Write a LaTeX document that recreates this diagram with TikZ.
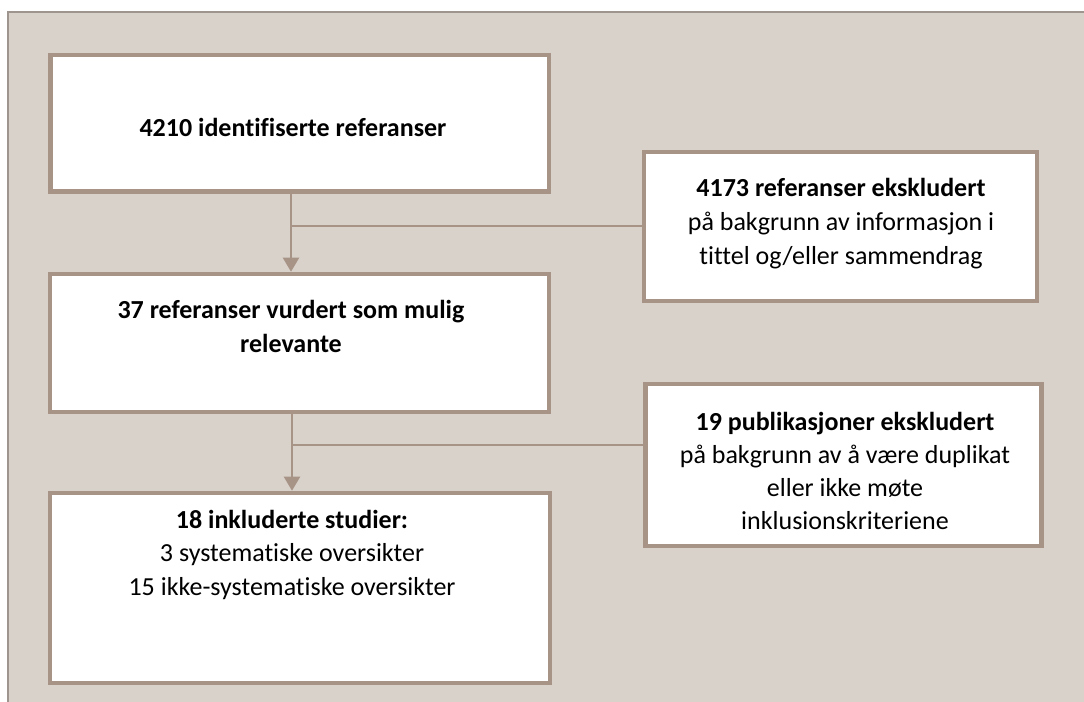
\documentclass[tikz,border=0pt]{standalone}
\usepackage{fontspec}
\setmainfont{Carlito}[Ligatures={NoCommon}]
\usetikzlibrary{arrows.meta}
\definecolor{bg}{RGB}{217,210,203}
\definecolor{bc}{RGB}{168,148,134}
\definecolor{fr}{RGB}{158,150,142}
\begin{document}
\begin{tikzpicture}[x=0.75pt,y=-0.75pt,
 box/.style={draw=bc,line width=3.4pt,fill=white,inner sep=0pt,rectangle},
 txt/.style={inner sep=0pt,anchor=base,font=\fontsize{19.5}{24}\selectfont},
 btxt/.style={txt,font=\fontsize{19.5}{24}\selectfont\bfseries},
 conn/.style={draw=bc,line width=1.6pt}]
\useasboundingbox (0,0) rectangle (1084,702);
\fill[white] (0,0) rectangle (1084,702);
\fill[bg] (8,12) rectangle (1084,702);
\draw[fr,line width=1.6pt] (8,702) -- (8,12) -- (1084,12);

\node[box,minimum width=373.9pt,minimum height=102.4pt] (b1) at (299.5,123.5) {};
\node[box,minimum width=294.75pt,minimum height=111.75pt] (b2) at (840.5,226.5) {};
\node[box,minimum width=374.25pt,minimum height=103.5pt] (b3) at (299.5,343) {};
\node[box,minimum width=297pt,minimum height=121.5pt] (b4) at (843.5,465) {};
\node[box,minimum width=375pt,minimum height=142.5pt] (b5) at (300,588) {};

\coordinate (j1) at (291,226);
\coordinate (j2) at (292,445);
\draw[conn,-{Triangle[width=12pt,length=10.5pt]}] (b1.south -| j1) -- (b3.north -| j1);
\draw[conn] (j1) -- (b2.west |- j1);
\draw[conn,-{Triangle[width=12pt,length=10.5pt]}] (b3.south -| j2) -- (b5.north -| j2);
\draw[conn] (j2) -- (b4.west |- j2);

\node[btxt] (t1) at (293,137) {4210 identifiserte referanser};

\node[btxt] (t2a) at (841,197) {4173 referanser ekskludert};
\node[txt] (t2b) at (841,231) {på bakgrunn av informasjon i};
\node[txt] (t2c) at (841,264) {tittel og/eller sammendrag};

\node[btxt] (t3a) at (291,318) {37 referanser vurdert som mulig};
\node[btxt] (t3b) at (291,352) {relevante};

\node[btxt] (t4a) at (845,430) {19 publikasjoner ekskludert};
\node[txt] (t4b) at (845,463) {på bakgrunn av å være duplikat};
\node[txt] (t4c) at (845,496) {eller ikke møte};
\node[txt] (t4d) at (845,529) {inklusionskriteriene};

\node[btxt] (t5a) at (292,528) {18 inkluderte studier:};
\node[txt] (t5b) at (292,561) {3 systematiske oversikter};
\node[txt] (t5c) at (292,595) {15 ikke-systematiske oversikter};
\end{tikzpicture}
\end{document}
